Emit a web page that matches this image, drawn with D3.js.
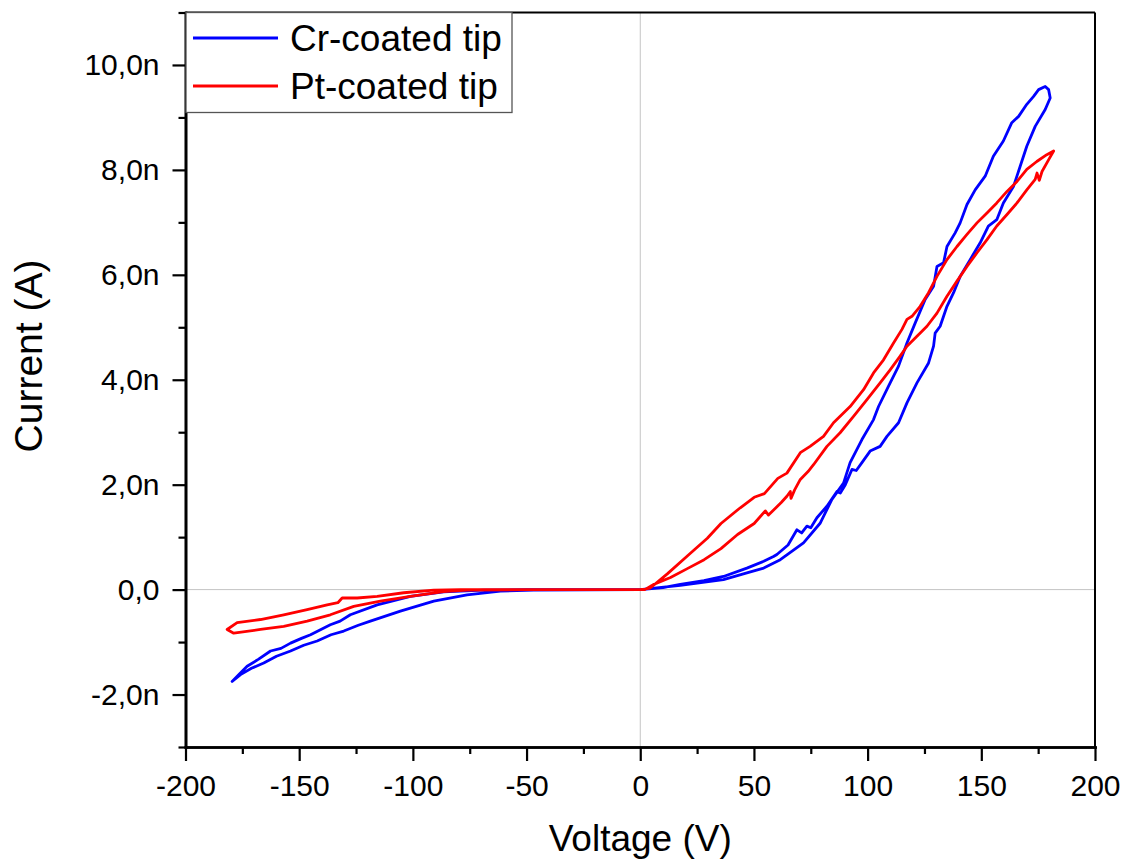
<!DOCTYPE html>
<html>
<head>
<meta charset="utf-8">
<script src="https://cdn.jsdelivr.net/npm/d3@7"></script>
<style>
  body { margin: 0; background: #fff; }
  text { font-family: Arial, "Liberation Sans", sans-serif; fill: #000; }
</style>
</head>
<body>
<div id="wrapper"></div>
<script>
// tick values and labels
const xTicks = [-200, -150, -100, -50, 0, 50, 100, 150, 200];
const xMinorTicks = [-175, -125, -75, -25, 25, 75, 125, 175];
const xTickLabels = ["-200", "-150", "-100", "-50", "0", "50", "100", "150", "200"];
const yTicks = [-2, 0, 2, 4, 6, 8, 10];
const yMinorTicks = [-3, -1, 1, 3, 5, 7, 9, 11];
const yTickLabels = ["-2,0n", "0,0", "2,0n", "4,0n", "6,0n", "8,0n", "10,0n"];

const seriesNames = ["Cr-coated tip", "Pt-coated tip"];

// Cr-coated tip, loop order: 0 -> +180 -> 0 -> -180 -> 0  (V, nA)
const crV = [0, 10, 17.6, 28, 36.6, 46.9, 54.3, 58.6, 60.1, 65, 68.9, 71, 73.3, 75, 77.7, 82.1,
  86.5, 88, 90.2, 93.1, 95, 97.5, 101.1, 105.5, 108.5, 113.6,
  117.3, 121.7, 126.8, 129, 129.7, 131.9, 134.9, 137.8, 140.7, 145.1, 149.5, 153.1, 156.8, 159.7,
  164.2, 167.1, 170, 173.7, 178.1, 180.3,
  179.6, 178.1, 175.2, 173, 170, 166.4, 163.4, 159.7, 155.3, 151.7, 147.3, 143.7, 140.7, 138.5,
  134.9, 133.4, 130.5, 129, 125.3, 120.9, 117.3, 113.6, 109.2, 104.8, 102.6, 97.5, 92.3, 89.4,
  84.3, 79.2, 71.8, 61.6, 54.3, 46.9, 36.6, 17.6, 0,
  -46.9, -61.5, -76.2, -90.8, -105.5, -118.7, -124, -130.4, -136, -142.1, -148, -153.8, -160,
  -165.6, -171, -175.8, -179.5,
  -176.5, -172.9, -168, -162.6, -158, -153.8, -149, -145, -140, -136.3, -132, -127.5, -115.7,
  -101.1, -86.5, -68.9, -50, 0];
const crI = [0, 0.04, 0.1, 0.17, 0.25, 0.41, 0.54, 0.63, 0.67, 0.85, 1.14, 1.08, 1.21, 1.18, 1.37, 1.59,
  1.87, 1.84, 2.0, 2.29, 2.27, 2.42, 2.64, 2.73, 2.92, 3.18,
  3.56, 3.94, 4.32, 4.64, 4.89, 5.02, 5.4, 5.66, 5.97, 6.29, 6.61, 6.93, 7.05, 7.37,
  7.69, 8.07, 8.45, 8.83, 9.15, 9.37,
  9.53, 9.59, 9.53, 9.4, 9.25, 9.02, 8.9, 8.55, 8.26, 7.88, 7.62, 7.34, 6.99, 6.8,
  6.54, 6.23, 6.16, 5.78, 5.53, 5.08, 4.7, 4.26, 3.88, 3.49, 3.24, 2.86, 2.42, 2.03,
  1.72, 1.27, 0.89, 0.57, 0.41, 0.32, 0.19, 0.08, 0,
  -0.01, -0.03, -0.1, -0.22, -0.41, -0.6, -0.68, -0.79, -0.86, -0.98, -1.06, -1.17, -1.27,
  -1.4, -1.5, -1.62, -1.75,
  -1.62, -1.46, -1.33, -1.17, -1.12, -1.02, -0.93, -0.86, -0.75, -0.67, -0.6, -0.48, -0.29,
  -0.13, -0.045, -0.01, 0, 0];

// Pt-coated tip, same loop order (V, nA)
const ptV = [0, 2, 5.9, 13.3, 20.7, 28.1, 35.5, 42.8, 50.1, 55, 56.4, 62, 64.5, 66, 66.3, 67.9, 70.4,
  73.8, 76.2, 82.1, 87.9, 93.8, 99.7, 105.5, 109.9, 114.3, 117.3, 121.7, 126.1, 130.5, 134.9,
  139.3, 143.7, 148.1, 152.5, 156.8, 161.3, 165.7, 170, 173.7, 174.5, 175.5, 176.7, 179.7, 181.8,
  178.8, 174.4, 170, 165.7, 161.3, 156.8, 152.5, 148.1, 143.7, 139.3, 134.9, 130.5, 126.8, 123.1,
  119.5, 117.3, 115.1, 111.4, 107, 102.6, 98.2, 92.3, 85, 80.6, 74.7, 70.4, 64.5, 60.5, 54.6,
  50.1, 44, 35.5, 29.5, 20.7, 11.9, 4.4, 0,
  -50, -76.2, -86.5, -101.1, -114.3, -126, -136.3, -146.5, -156.8, -167, -178.8, -181.7,
  -177.3, -167, -156.8, -146.5, -137.7, -133, -131.1, -124.5, -115.7, -104, -90.8, -79, 0];
const ptI = [0, 0, 0.1, 0.23, 0.4, 0.57, 0.78, 1.05, 1.26, 1.5, 1.42, 1.66, 1.78, 1.87, 1.74, 1.9, 2.1,
  2.25, 2.38, 2.73, 2.99, 3.3, 3.62, 3.94, 4.19, 4.45, 4.64, 4.83, 5.02, 5.27, 5.59,
  5.88, 6.16, 6.42, 6.67, 6.93, 7.15, 7.37, 7.62, 7.82, 7.94, 7.8, 7.97, 8.2, 8.36,
  8.29, 8.16, 8.01, 7.78, 7.59, 7.37, 7.18, 6.99, 6.77, 6.54, 6.29, 5.97, 5.66, 5.4,
  5.21, 5.15, 4.96, 4.7, 4.38, 4.13, 3.81, 3.49, 3.18, 2.92, 2.73, 2.61, 2.22, 2.12, 1.83,
  1.76, 1.56, 1.26, 0.98, 0.64, 0.3, 0.03, 0,
  0, -0.01, -0.04, -0.13, -0.22, -0.32, -0.48, -0.6, -0.7, -0.76, -0.83, -0.76,
  -0.63, -0.57, -0.48, -0.38, -0.29, -0.25, -0.16, -0.16, -0.13, -0.06, -0.01, 0, 0];

const seriesColors = ["#0000ff", "#ff0000"];

function drawChart() {
  const dimensions = {
    width: 1126,
    height: 861,
    margins: { top: 12.5, left: 185.5, bottom: 114, right: 31 }
  };
  dimensions.boundedWidth = dimensions.width - dimensions.margins.left - dimensions.margins.right;
  dimensions.boundedHeight = dimensions.height - dimensions.margins.top - dimensions.margins.bottom;

  const svg = d3.select("#wrapper").append("svg")
    .attr("width", dimensions.width)
    .attr("height", dimensions.height);

  const bounds = svg.append("g")
    .attr("transform", `translate(${dimensions.margins.left},${dimensions.margins.top})`);

  const xScale = d3.scaleLinear().domain([-200, 200]).range([0, dimensions.boundedWidth]);
  const yScale = d3.scaleLinear().domain([-3, 11]).range([dimensions.boundedHeight, 0]);

  // zero reference lines
  bounds.append("line")
    .attr("x1", 0).attr("x2", dimensions.boundedWidth)
    .attr("y1", yScale(0)).attr("y2", yScale(0))
    .attr("stroke", "#c4c4c4").attr("stroke-width", 1);
  bounds.append("line")
    .attr("x1", xScale(0)).attr("x2", xScale(0))
    .attr("y1", 0).attr("y2", dimensions.boundedHeight)
    .attr("stroke", "#c4c4c4").attr("stroke-width", 1);

  // curves
  const lineGenerator = d3.line()
    .x(d => xScale(d[0]))
    .y(d => yScale(d[1]));
  const series = [d3.zip(crV, crI), d3.zip(ptV, ptI)];
  series.forEach((pts, i) => {
    bounds.append("path")
      .attr("d", lineGenerator(pts))
      .attr("fill", "none")
      .attr("stroke", seriesColors[i])
      .attr("stroke-width", 2.8)
      .attr("stroke-linejoin", "round");
  });

  // frame: top and right
  bounds.append("line")
    .attr("x1", 0).attr("x2", dimensions.boundedWidth)
    .attr("y1", 0).attr("y2", 0)
    .attr("stroke", "#000").attr("stroke-width", 2);
  bounds.append("line")
    .attr("x1", dimensions.boundedWidth).attr("x2", dimensions.boundedWidth)
    .attr("y1", 0).attr("y2", dimensions.boundedHeight)
    .attr("stroke", "#000").attr("stroke-width", 2);

  // axes
  const xMinor = bounds.append("g")
    .attr("transform", `translate(0,${dimensions.boundedHeight})`)
    .call(d3.axisBottom(xScale).tickValues(xMinorTicks).tickSize(7).tickSizeOuter(0).tickFormat(""));
  const yMinor = bounds.append("g")
    .call(d3.axisLeft(yScale).tickValues(yMinorTicks).tickSize(7).tickSizeOuter(0).tickFormat(""));

  const xAxis = bounds.append("g")
    .attr("transform", `translate(0,${dimensions.boundedHeight})`)
    .call(d3.axisBottom(xScale)
      .tickValues(xTicks)
      .tickSize(14)
      .tickSizeOuter(0)
      .tickPadding(14)
      .tickFormat((d, i) => xTickLabels[i]));

  const yAxis = bounds.append("g")
    .call(d3.axisLeft(yScale)
      .tickValues(yTicks)
      .tickSize(13)
      .tickSizeOuter(0)
      .tickPadding(13)
      .tickFormat((d, i) => yTickLabels[i]));

  [xAxis, yAxis, xMinor, yMinor].forEach(ax => {
    ax.select(".domain").attr("stroke", "#000").attr("stroke-width", 2.6).attr("stroke-linecap", "square");
    ax.selectAll(".tick line").attr("stroke", "#000").attr("stroke-width", 2.2);
    ax.selectAll("text")
      .style("font-family", "Arial, 'Liberation Sans', sans-serif")
      .style("font-size", "30px")
      .attr("fill", "#000");
  });

  // axis titles
  svg.append("text")
    .attr("x", dimensions.margins.left + xScale(0))
    .attr("y", 851)
    .attr("text-anchor", "middle")
    .style("font-size", "37px")
    .text("Voltage (V)");
  svg.append("text")
    .attr("transform", "translate(42,356) rotate(-90)")
    .attr("text-anchor", "middle")
    .style("font-size", "39px")
    .text("Current (A)");

  // legend
  const legend = svg.append("g").attr("transform", "translate(186,12.5)");
  legend.append("rect")
    .attr("width", 326).attr("height", 100)
    .attr("fill", "#fff")
    .attr("stroke", "#555").attr("stroke-width", 1.3);
  seriesNames.forEach((name, i) => {
    const row = legend.append("g").attr("transform", `translate(0,${25.5 + i * 48})`);
    row.append("line")
      .attr("x1", 7).attr("x2", 92)
      .attr("stroke", seriesColors[i]).attr("stroke-width", 3);
    row.append("text")
      .attr("x", 104).attr("y", 12.5)
      .style("font-size", "37px")
      .text(name);
  });
}

drawChart();
</script>
</body>
</html>
